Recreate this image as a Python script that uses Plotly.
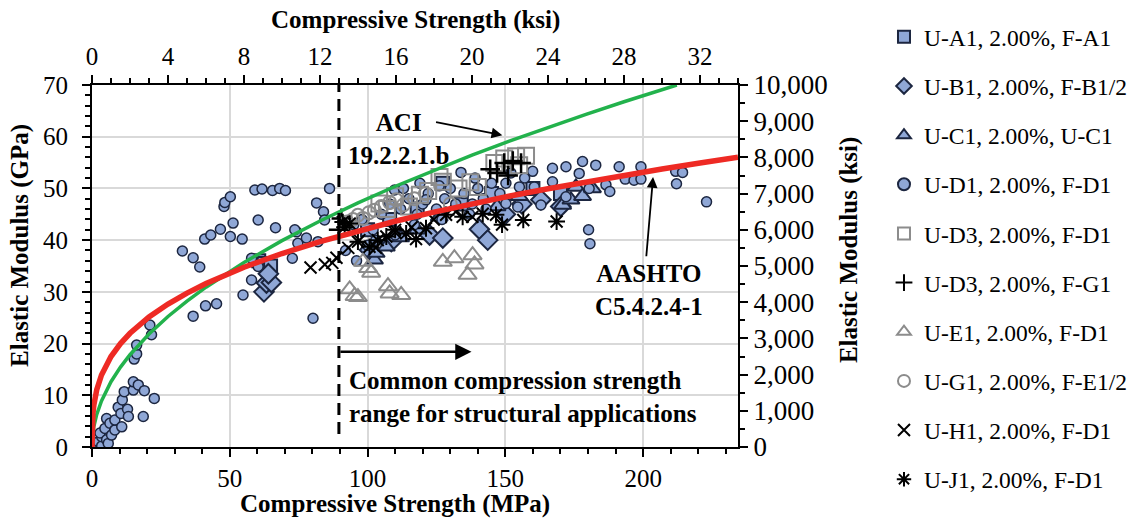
import plotly.graph_objects as go

FONT = "Liberation Serif"

# ---------------- data (MPa, GPa) ----------------
ua1_x = [60.5, 62.5, 64.8, 100.0, 108.0, 118.0, 127.3, 134.0, 145.0, 160.0, 170.0]
ua1_y = [36.0, 35.5, 35.0, 42.0, 44.0, 46.0, 51.0, 47.0, 49.0, 50.0, 49.0]

ub1_x = [62.4, 63.3, 65.1, 64.0, 100.7, 108.6, 122.5, 127.3, 140.6, 143.6, 150.0, 156.0, 162.9, 170.1]
ub1_y = [30.0, 31.7, 31.8, 33.5, 38.1, 39.7, 41.0, 40.4, 42.1, 40.0, 45.0, 47.0, 47.8, 46.5]

uc1_x = [102.5, 103.1, 106.8, 112.0, 118.0, 126.0, 147.0, 155.0, 170.8, 173.8, 175.6, 178.0, 181.6]
uc1_y = [36.2, 37.5, 38.7, 40.5, 42.0, 44.5, 46.5, 48.5, 46.8, 47.8, 50.3, 48.5, 50.0]

ud1_x = [1.1, 2.3, 3.5, 3.5, 4.1, 2.9, 4.7, 5.3, 5.3, 5.9, 6.5, 7.1, 8.3, 8.3, 9.5, 10.5,
         10.8, 11.0, 11.7, 12.9, 13.2, 15.0, 15.0, 16.8, 18.6, 19.0, 22.6, 15.3, 16.2, 16.2,
         21.0, 21.6, 36.7, 41.2, 45.2, 32.8, 36.7, 39.1, 40.9, 43.1, 46.6, 50.2, 54.5, 51.2,
         47.9, 48.2, 50.2, 59.1, 61.7, 65.5, 68.1, 70.2, 60.3, 66.6, 72.7, 54.8, 57.9, 74.2,
         74.7, 80.2, 57.9, 60.3, 86.2, 81.5, 84.0, 84.4, 77.8, 82.0, 73.6,
         92.0, 96.0, 100.0, 95.0, 98.0, 102.0, 105.0, 108.0, 112.0, 115.0, 118.0, 120.0,
         122.0, 125.0, 128.0, 130.0, 132.0, 135.0, 138.0, 140.0, 142.0, 145.0, 148.0, 103.0,
         110.0, 117.0, 127.0, 137.0, 143.0, 109.8, 121.2, 133.9, 113.0, 119.0, 126.0, 139.0,
         150.2, 150.2, 154.5, 155.1, 159.9, 160.5, 162.9, 167.1, 167.1, 172.0, 172.0, 176.8,
         178.0, 180.4, 182.8, 186.5, 187.9, 191.3, 193.5, 196.7, 199.2, 199.2, 211.8, 214.3,
         212.1, 223.0, 180.2, 180.7, 152.0, 157.0]
ud1_y = [0.1, 1.0, 0.2, 2.0, 3.0, 2.7, 3.6, 1.4, 5.5, 0.7, 4.6, 2.3, 3.3, 5.2, 7.7, 6.5,
         3.9, 9.1, 10.7, 7.3, 5.9, 11.0, 12.6, 12.0, 5.9, 10.9, 9.4, 17.0, 18.0, 19.7,
         23.6, 21.7, 25.3, 27.3, 27.7, 37.9, 36.6, 34.8, 40.2, 41.0, 42.1, 40.7, 40.2, 43.3,
         46.5, 47.3, 48.4, 49.7, 49.9, 49.6, 50.0, 49.6, 43.9, 42.4, 36.5, 29.4, 32.3, 41.6,
         39.4, 24.9, 36.5, 34.9, 50.0, 47.2, 45.5, 43.9, 40.4, 39.7, 42.0,
         38.0, 36.0, 39.0, 43.0, 44.0, 42.0, 45.0, 47.0, 46.0, 48.0, 45.0, 47.0,
         49.0, 46.0, 48.0, 50.0, 47.0, 49.0, 47.0, 50.0, 48.0, 51.0, 49.0, 40.0,
         41.0, 43.0, 44.0, 45.0, 46.0, 49.7, 47.8, 53.1, 50.0, 51.0, 50.5, 52.0,
         51.0, 47.1, 46.4, 50.3, 53.3, 50.3, 46.8, 53.9, 51.3, 54.2, 48.4, 52.9,
         55.2, 50.0, 54.5, 50.7, 49.4, 54.2, 51.8, 51.6, 54.2, 51.8, 53.3, 53.1,
         50.9, 47.4, 42.0, 39.3, 53.0, 52.0]

ud3_x = [104.3, 107.0, 110.0, 115.0, 119.0, 122.0, 126.1, 127.3, 133.0, 137.3, 140.0, 146.0,
         149.6, 153.9, 157.5, 155.0]
ud3_y = [47.1, 46.0, 48.5, 46.5, 48.8, 49.5, 52.2, 51.3, 50.0, 51.2, 50.3, 54.9,
         55.8, 56.2, 56.3, 54.5]

ud3g_x = [89.5, 90.5, 144.5, 149.6, 152.7, 155.7, 147.0, 151.0]
ud3g_y = [42.0, 44.2, 53.7, 54.9, 55.3, 54.9, 53.0, 52.5]

ue1_x = [93.5, 95.3, 96.5, 98.3, 100.2, 101.3, 107.4, 108.0, 112.2, 127.3, 131.5, 138.1, 138.8, 136.3]
ue1_y = [30.5, 29.2, 29.0, 35.8, 34.6, 33.7, 31.1, 29.7, 29.4, 35.8, 36.5, 37.1, 35.3, 33.3]

ug1_x = [92.5, 94.7, 96.5, 98.3, 100.5, 102.5, 105.0, 108.0, 110.4, 113.0, 117.0, 121.0, 130.0]
ug1_y = [43.5, 44.0, 44.8, 44.2, 45.3, 45.8, 46.5, 47.3, 47.8, 46.8, 48.0, 49.0, 47.0]

uh1_x = [79.3, 84.5, 87.2, 88.7, 93.0, 97.0, 103.0, 110.0, 116.0, 124.0, 132.0, 138.0]
uh1_y = [34.7, 35.3, 35.6, 36.6, 38.5, 40.0, 38.5, 41.5, 42.5, 44.0, 45.5, 44.5]

uj1_x = [91.0, 91.7, 93.5, 96.5, 100.7, 103.7, 106.8, 110.0, 114.0, 117.6, 121.2, 128.5,
         134.5, 141.8, 146.6, 148.8, 156.5, 168.6]
uj1_y = [43.5, 42.5, 43.2, 39.7, 38.7, 40.0, 40.7, 42.0, 41.3, 40.2, 42.3, 44.9,
         44.5, 45.1, 44.9, 43.0, 43.9, 43.6]

# design-code curves (ksi vs ksi)
aci_fc = [0, 0.02, 0.1, 0.25, 0.5, 1, 1.5, 2, 3, 4, 5, 6, 8, 10, 12, 14, 16, 18, 20, 22, 24, 26, 28, 30, 30.78]
aci_e = [0, 255, 570, 901, 1275, 1803, 2208, 2549, 3122, 3605, 4031, 4415, 5098, 5700, 6244,
         6744, 7210, 7647, 8061, 8455, 8830, 9191, 9538, 9873, 10000]
aashto_fc = [0, 0.001, 0.01, 0.05, 0.1, 0.25, 0.5, 1, 1.5, 2, 3, 4, 5, 6, 8, 10, 12, 14, 16,
             18, 20, 22, 24, 26, 28, 30, 32, 34]
aashto_e = [0, 256, 547, 930, 1169, 1582, 1989, 2500, 2858, 3142, 3593, 3950, 4252, 4516, 4966,
            5345, 5676, 5972, 6242, 6489, 6719, 6933, 7135, 7327, 7507, 7680, 7846, 8004]

x_ticks_mpa = [0, 50, 100, 150, 200]
x_ticks_ksi = [0, 4, 8, 12, 16, 20, 24, 28, 32]
y_ticks_gpa = [0, 10, 20, 30, 40, 50, 60, 70]
y_ticks_ksi = [0, 1000, 2000, 3000, 4000, 5000, 6000, 7000, 8000, 9000, 10000]

FILL = "#8fa7d6"
EDGE = "#1c2640"
GRAY = "#8c8c8c"

fig = go.Figure()

series = [
    ("U-A1, 2.00%, F-A1", ua1_x, ua1_y, dict(symbol="square", size=13, color=FILL, line=dict(color=EDGE, width=2))),
    ("U-B1, 2.00%, F-B1/2", ub1_x, ub1_y, dict(symbol="diamond", size=15, color=FILL, line=dict(color=EDGE, width=2))),
    ("U-C1, 2.00%, U-C1", uc1_x, uc1_y, dict(symbol="triangle-up", size=15, color=FILL, line=dict(color=EDGE, width=2))),
    ("U-D1, 2.00%, F-D1", ud1_x, ud1_y, dict(symbol="circle", size=10, color=FILL, line=dict(color=EDGE, width=1.5))),
    ("U-D3, 2.00%, F-D1", ud3_x, ud3_y, dict(symbol="square-open", size=16, color=GRAY, line=dict(color=GRAY, width=2))),
    ("U-D3, 2.00%, F-G1", ud3g_x, ud3g_y, dict(symbol="cross-thin-open", size=14, color="black", line=dict(color="black", width=2.5))),
    ("U-E1, 2.00%, F-D1", ue1_x, ue1_y, dict(symbol="triangle-up-open", size=16, color=GRAY, line=dict(color=GRAY, width=2))),
    ("U-G1, 2.00%, F-E1/2", ug1_x, ug1_y, dict(symbol="circle-open", size=13, color=GRAY, line=dict(color=GRAY, width=2))),
    ("U-H1, 2.00%, F-D1", uh1_x, uh1_y, dict(symbol="x-thin-open", size=12, color="black", line=dict(color="black", width=2))),
    ("U-J1, 2.00%, F-D1", uj1_x, uj1_y, dict(symbol="asterisk-open", size=14, color="black", line=dict(color="black", width=2))),
]
for i, (name, xs, ys, mk) in enumerate(series):
    fig.add_trace(go.Scatter(x=xs, y=ys, mode="markers", name=name, marker=mk,
                             legendgroup=f"g{i}", xaxis="x", yaxis="y"))

fig.add_trace(go.Scatter(x=aci_fc, y=aci_e, mode="lines", line=dict(color="#22b24c", width=3.5),
                         showlegend=False, xaxis="x2", yaxis="y2", hoverinfo="skip"))
fig.add_trace(go.Scatter(x=aashto_fc, y=aashto_e, mode="lines", line=dict(color="#ee2a24", width=5.5),
                         showlegend=False, xaxis="x2", yaxis="y2", hoverinfo="skip"))

tickfont = dict(family=FONT, size=25, color="black")
axis_common = dict(showline=True, linecolor="black", linewidth=2, ticks="outside", tickwidth=2,
                   ticklen=8, tickcolor="black", zeroline=False, automargin=False)

fig.update_layout(
    width=1148, height=520,
    margin=dict(l=92, r=410, t=85, b=73, autoexpand=False),
    paper_bgcolor="white", plot_bgcolor="white",
    font=dict(family=FONT, color="black"),
    xaxis=dict(range=[0, 234.42], tickvals=x_ticks_mpa, showgrid=True, gridcolor="#d9d9d9", gridwidth=1.5,
               tickfont=tickfont, ticklabelstandoff=0,
               minor=dict(dtick=10, ticks="outside", ticklen=5, tickwidth=2, tickcolor="black", showgrid=False),
               **axis_common),
    xaxis2=dict(range=[0, 34], tickvals=x_ticks_ksi, overlaying="x", side="top", anchor="y", showgrid=False,
                tickfont=tickfont,
                minor=dict(dtick=1, ticks="outside", ticklen=5, tickwidth=2, tickcolor="black", showgrid=False),
                **axis_common),
    yaxis=dict(range=[0, 70], tickvals=y_ticks_gpa, showgrid=True, gridcolor="#d9d9d9", gridwidth=1.5,
               tickfont=tickfont, ticklabelstandoff=9,
               minor=dict(dtick=2, ticks="outside", ticklen=5, tickwidth=2, tickcolor="black", showgrid=False),
               **axis_common),
    yaxis2=dict(range=[0, 10000], tickvals=y_ticks_ksi, tickformat=",", overlaying="y", side="right", anchor="x",
                showgrid=False, tickfont=dict(family=FONT, size=27, color="black"),
                minor=dict(dtick=500, ticks="outside", ticklen=5, tickwidth=2, tickcolor="black", showgrid=False),
                **axis_common),
    legend=dict(x=1.226, y=0.971, xanchor="left", yanchor="top", yref="container", maxheight=1000,
                font=dict(family=FONT, size=23.5, color="black"),
                tracegroupgap=15.6, itemsizing="constant", bgcolor="rgba(0,0,0,0)", itemwidth=30),
    showlegend=True,
)

bold = dict(family=FONT, size=25, color="black")
ann = [
    dict(text="<b>Compressive Strength (ksi)</b>", xref="paper", yref="paper", x=0.5015, y=1.1796,
         showarrow=False, font=bold, xanchor="center", yanchor="middle"),
    dict(text="<b>Compressive Strength (MPa)</b>", xref="paper", yref="paper", x=0.469, y=-0.157,
         showarrow=False, font=bold, xanchor="center", yanchor="middle"),
    dict(text="<b>Elastic Modulus (GPa)</b>", xref="paper", yref="paper", x=-0.1115, y=0.558,
         showarrow=False, font=bold, textangle=-90, xanchor="center", yanchor="middle"),
    dict(text="<b>Elastic Modulus (ksi)</b>", xref="paper", yref="paper", x=1.1718, y=0.544,
         showarrow=False, font=bold, textangle=-90, xanchor="center", yanchor="middle"),
    dict(text="<b>ACI</b><br><b>19.2.2.1.b</b>", xref="x", yref="y", x=111.2, y=59.5, showarrow=False,
         font=bold, xanchor="center", yanchor="middle", align="center"),
    dict(text="", xref="x", yref="y", x=148.9, y=60.3, ax=124.3, ay=62.9, axref="x", ayref="y",
         showarrow=True, arrowhead=2, arrowsize=1.2, arrowwidth=1.8, arrowcolor="black"),
    dict(text="<b>AASHTO</b><br><b>C5.4.2.4-1</b>", xref="x", yref="y", x=202.2, y=30.4, showarrow=False,
         font=bold, xanchor="center", yanchor="middle", align="center"),
    dict(text="", xref="x", yref="y", x=203.6, y=52.2, ax=201.1, ay=36.6, axref="x", ayref="y",
         showarrow=True, arrowhead=2, arrowsize=1.2, arrowwidth=1.8, arrowcolor="black"),
    dict(text="<b>Common compression strength</b><br><b>range for structural applications</b>",
         xref="x", yref="y", x=92.4, y=9.7, showarrow=False, font=bold, xanchor="left",
         yanchor="middle", align="left"),
    dict(text="", xref="x", yref="y", x=137.7, y=18.4, ax=89.6, ay=18.4, axref="x", ayref="y",
         showarrow=True, arrowhead=2, arrowsize=1.3, arrowwidth=2.5, arrowcolor="black"),
]
fig.update_layout(annotations=ann)

fig.add_shape(type="line", xref="x", yref="y", x0=89.6, x1=89.6, y0=2.5, y1=70,
              line=dict(color="black", width=3, dash="12px,7px"))

fig.write_html("out.html")
